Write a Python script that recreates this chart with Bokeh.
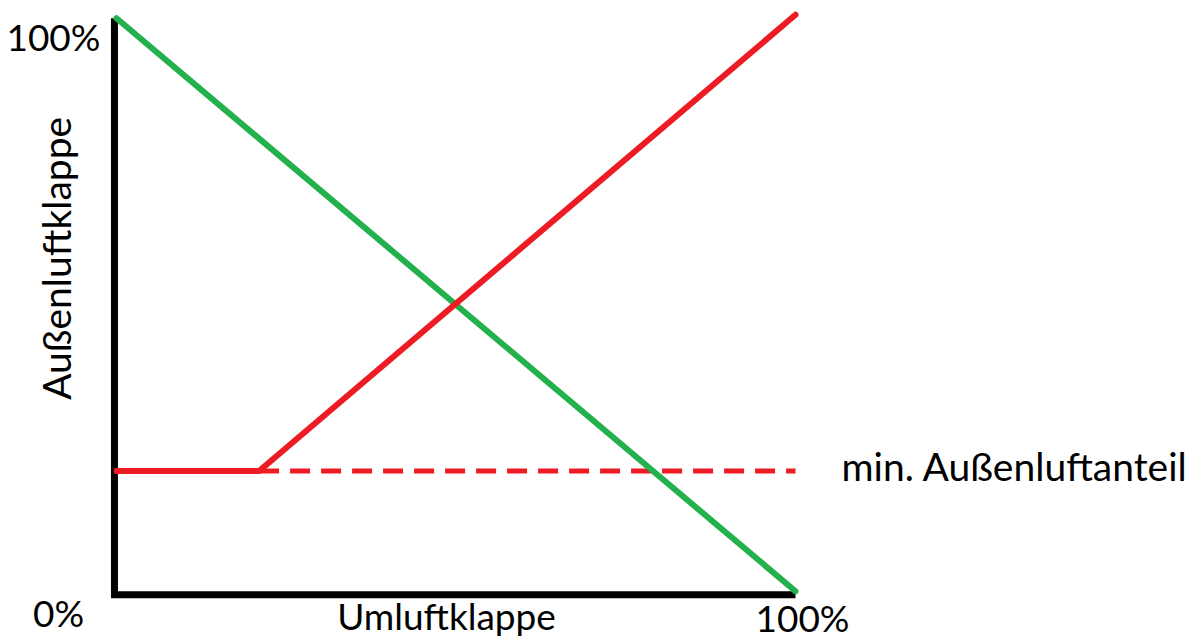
from bokeh.plotting import figure
from bokeh.models import Range1d, Label
from bokeh.embed import file_html
from bokeh.resources import INLINE

# Data (percent)
umluft_x = [0, 100]
umluft_y = [100, 0]
aussen_x = [0, 21, 100]
aussen_y = [21, 21, 100.6]
min_x = [21, 100]
min_y = [21, 21]
axis_x = [-0.3, -0.3, 100]
axis_y = [100, -0.6, -0.6]

GREEN = "#22B14C"
RED = "#ED1C24"
FONT = "Lato"

p = figure(width=1195, height=639, output_backend="svg", toolbar_location=None,
           x_range=Range1d(-17.084, 158.91), y_range=Range1d(-8.419, 103.093),
           x_axis_location=None, y_axis_location=None,
           min_border=0)
p.outline_line_color = None
p.xgrid.visible = False
p.ygrid.visible = False

p.line(axis_x, axis_y, line_color="black", line_width=7, line_join="miter", line_cap="butt")
p.line(min_x, min_y, line_color=RED, line_width=5, line_dash="20 11")
p.line(umluft_x, umluft_y, line_color=GREEN, line_width=6, line_cap="round")
p.line(aussen_x, aussen_y, line_color=RED, line_width=6, line_cap="round", line_join="round")

def lab(x, y, text, align="left", angle=0.0, fs="37px"):
    p.add_layout(Label(x=x, y=y, text=text, text_font=FONT, text_font_size=fs,
                       text_color="#000000", text_align=align, text_baseline="alphabetic",
                       angle=angle))

lab(-2.36, 96.75, "100%", "right")
lab(-8.54, -3.77, "0%", "center")
lab(101.03, -4.62, "100%", "center")
lab(48.6, -4.28, "Umluftklappe", "center")
lab(106.77, 21.91, "min. Außenluftanteil", "left", fs="39px")
lab(-8.91, 58.1, "Außenluftklappe", "center", angle=1.5708, fs="39px")

open("out.html", "w").write(file_html(p, INLINE))
